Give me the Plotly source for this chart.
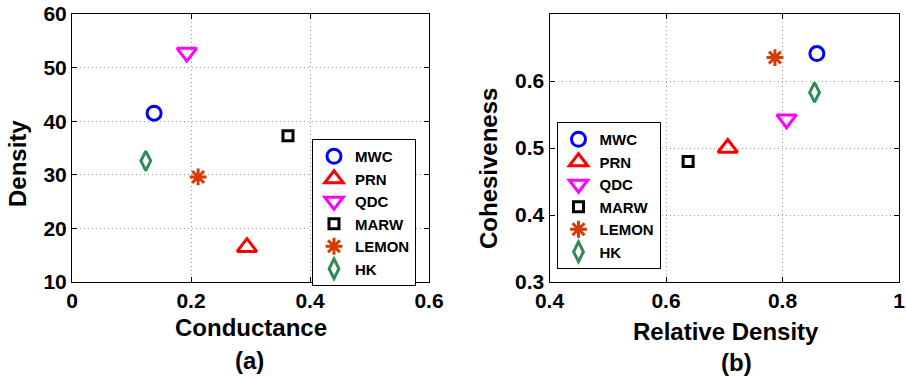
import plotly.graph_objects as go

# Community-detection methods compared in two scatter panels
methods = ["MWC", "PRN", "QDC", "MARW", "LEMON", "HK"]

# Panel (a): conductance vs. density
conductance = [0.138, 0.294, 0.193, 0.363, 0.212, 0.124]
density = [41.5, 16.5, 52.8, 37.3, 29.6, 32.6]

# Panel (b): relative density vs. cohesiveness
relative_density = [0.859, 0.706, 0.807, 0.638, 0.787, 0.855]
cohesiveness = [0.641, 0.500, 0.543, 0.480, 0.635, 0.583]

x_ticks_a = [0, 0.2, 0.4, 0.6]
x_ticklabels_a = ["0", "0.2", "0.4", "0.6"]
y_ticks_a = [10, 20, 30, 40, 50, 60]
x_ticks_b = [0.4, 0.6, 0.8, 1.0]
x_ticklabels_b = ["0.4", "0.6", "0.8", "1"]
y_ticks_b = [0.3, 0.4, 0.5, 0.6]
y_ticklabels_b = ["0.3", "0.4", "0.5", "0.6"]

styles = {
    "MWC": dict(symbol="circle-open", color="#0000FF", size=14),
    "PRN": dict(symbol="triangle-up-open", color="#FF0000", size=17),
    "QDC": dict(symbol="triangle-down-open", color="#FF00FF", size=17),
    "MARW": dict(symbol="square-open", color="#000000", size=10),
    "LEMON": dict(symbol="asterisk-open", color="#D93A00", size=14),
    "HK": dict(symbol="diamond-tall-open", color="#2E8B57", size=14),
}

W, H = 906, 379
FONT = "Liberation Sans, Arial, Helvetica, sans-serif"

fig = go.Figure()

for i, m in enumerate(methods):
    st = styles[m]
    marker = dict(symbol=st["symbol"], size=st["size"],
                  color=st["color"], line=dict(color=st["color"], width=3))
    fig.add_trace(go.Scatter(
        x=[conductance[i]], y=[density[i]], mode="markers", name=m,
        marker=marker, xaxis="x", yaxis="y", legend="legend"))
    fig.add_trace(go.Scatter(
        x=[relative_density[i]], y=[cohesiveness[i]], mode="markers", name=m,
        marker=marker, xaxis="x2", yaxis="y2", legend="legend2"))


def px_x(p):
    return p / W


def px_y(p):
    return 1 - p / H


axis_common = dict(
    automargin=False, ticklabeloverflow="allow",
    showline=True, linecolor="black", linewidth=1, mirror="allticks",
    ticks="inside", ticklen=5, tickcolor="black", tickwidth=1,
    showgrid=True, gridcolor="#9a9a9a", griddash="1px,3px", gridwidth=1,
    zeroline=False, tickfont=dict(family=FONT, size=21, color="black", weight="bold"),
)

legend_common = dict(
    bordercolor="black", borderwidth=1, bgcolor="white",
    font=dict(family=FONT, size=15, color="black", weight="bold"),
    xanchor="left", yanchor="top", itemwidth=32, tracegroupgap=0,
)

fig.update_layout(
    template="none",
    width=W, height=H, autosize=False,
    margin=dict(l=0, r=0, t=0, b=0, autoexpand=False),
    paper_bgcolor="white", plot_bgcolor="white",
    xaxis=dict(domain=[px_x(72), px_x(429)], range=[0, 0.6],
               tickvals=x_ticks_a, ticktext=x_ticklabels_a, anchor="y", **axis_common),
    yaxis=dict(domain=[px_y(282), px_y(14)], range=[10, 60],
               tickvals=y_ticks_a, anchor="x", **axis_common),
    xaxis2=dict(domain=[px_x(549.5), px_x(899)], range=[0.4, 1.0],
                tickvals=x_ticks_b, ticktext=x_ticklabels_b, anchor="y2", **axis_common),
    yaxis2=dict(domain=[px_y(282), px_y(14)], range=[0.3, 0.7],
                tickvals=y_ticks_b, ticktext=y_ticklabels_b, anchor="x2", **axis_common),
    legend=dict(x=px_x(312), y=px_y(139), **legend_common),
    legend2=dict(x=px_x(556.5), y=px_y(122), **legend_common),
    showlegend=True,
)

title_font = dict(family=FONT, size=24, color="black", weight="bold")
labels = [
    ("Conductance", 250.5, 327, 0),
    ("(a)", 249, 360, 0),
    ("Density", 17, 164, -90),
    ("Relative Density", 726, 331, 0),
    ("(b)", 736, 362, 0),
    ("Cohesiveness", 489, 169, -90),
]
for text, x, y, ang in labels:
    fig.add_annotation(text=text, x=px_x(x), y=px_y(y), xref="paper", yref="paper",
                       xanchor="center", yanchor="middle", showarrow=False,
                       textangle=ang, font=title_font)

fig.write_html("out.html")
